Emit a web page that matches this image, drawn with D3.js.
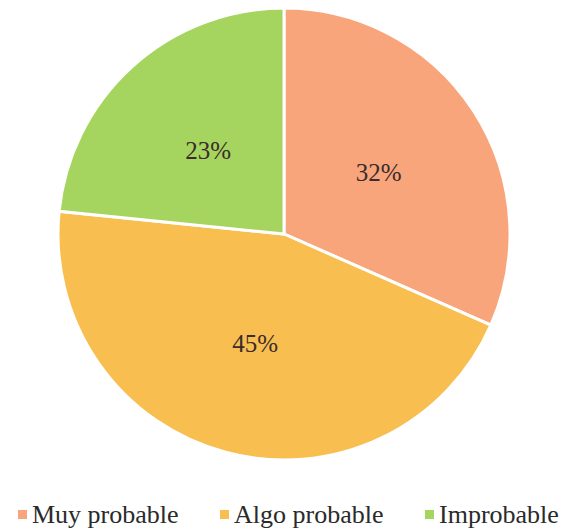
<!DOCTYPE html>
<html><head><meta charset="utf-8">
<script src="https://cdn.jsdelivr.net/npm/d3@7"></script>
<style>body{margin:0;background:#fff} text{font-family:'Liberation Serif','Times New Roman','DejaVu Serif',serif}</style>
</head><body>
<svg id="c" width="565" height="528"></svg>
<script>
const categories = ["Muy probable", "Algo probable", "Improbable"];
const values = [31.6, 45.0, 23.4];
const colors = ["#F9A57B", "#F8BF50", "#A6D55F"];

const svg = d3.select("#c");
const cx = 284, cy = 234, r = 226;
const g = svg.append("g").attr("transform", `translate(${cx},${cy})`);
const pie = d3.pie().sort(null).value(d => d)(values);
const arc = d3.arc().innerRadius(0).outerRadius(r);
const labelArc = d3.arc().innerRadius(r * 0.5).outerRadius(r * 0.5);

g.selectAll("path").data(pie).join("path")
  .attr("d", arc)
  .attr("fill", (d, i) => colors[i])
  .attr("stroke", "#fff").attr("stroke-width", 3);

g.selectAll("text").data(pie).join("text")
  .attr("transform", d => `translate(${labelArc.centroid(d)})`)
  .attr("text-anchor", "middle").attr("dy", "0.35em")
  .attr("font-size", 25)
  .attr("fill", "#3a2c2c")
  .text(d => Math.round(d.data) + "%");

const legendX = [18, 220, 425];
const leg = svg.append("g");
categories.forEach((c, i) => {
  leg.append("rect").attr("x", legendX[i]).attr("y", 510).attr("width", 9).attr("height", 9)
    .attr("fill", colors[i]);
  leg.append("text").attr("x", legendX[i] + 14).attr("y", 523)
    .attr("font-size", 26)
    .attr("fill", "#2a2a2a").text(c);
});
</script>
</body></html>
